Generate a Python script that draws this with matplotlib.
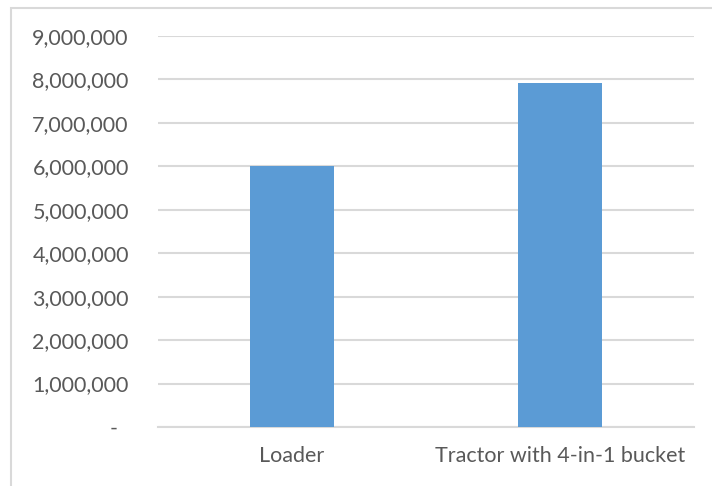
import matplotlib
matplotlib.use("Agg")
import matplotlib.pyplot as plt
from matplotlib.patches import Rectangle

# equipment cost per option
categories = ["Loader", "Tractor with 4-in-1 bucket"]
costs = [6000000, 7920000]
y_ticks = list(range(0, 9000001, 1000000))

text_color = "#595959"
grid_color = "#D9D9D9"
bar_color = "#5B9BD5"

plt.rcParams["font.family"] = ["Lato", "DejaVu Sans"]

W, H = 712, 486
fig = plt.figure(figsize=(W / 100, H / 100), dpi=100)
fig.patch.set_facecolor("white")

# light chart-area frame (clipped on the right and bottom)
fig.add_artist(Rectangle((10.5 / W, -0.1), 1.2, 1.1 - 7.5 / H,
                         transform=fig.transFigure, fill=False,
                         edgecolor=grid_color, linewidth=1.5))

ax = fig.add_axes([158 / W, (H - 427) / H, (694 - 158) / W, (427 - 36) / H])
ax.bar(range(len(categories)), costs, width=0.313, color=bar_color, zorder=3)

ax.set_xlim(-0.5, len(categories) - 0.5)
ax.set_ylim(0, 9000000)
ax.set_yticks(y_ticks)
ax.set_yticklabels(["-  " if v == 0 else f"{v:,}" for v in y_ticks])
ax.set_xticks(range(len(categories)))
ax.set_xticklabels(categories)

ax.grid(axis="y", color=grid_color, linewidth=1.5, zorder=0)
for s in ["top", "right", "left"]:
    ax.spines[s].set_visible(False)
ax.spines["bottom"].set_color(grid_color)
ax.spines["bottom"].set_linewidth(1.5)

ax.tick_params(axis="y", length=0, pad=21, labelsize=15.5, labelcolor=text_color)
ax.tick_params(axis="x", length=0, pad=14, labelsize=15.5, labelcolor=text_color)

fig.savefig("out.png", dpi=100)
